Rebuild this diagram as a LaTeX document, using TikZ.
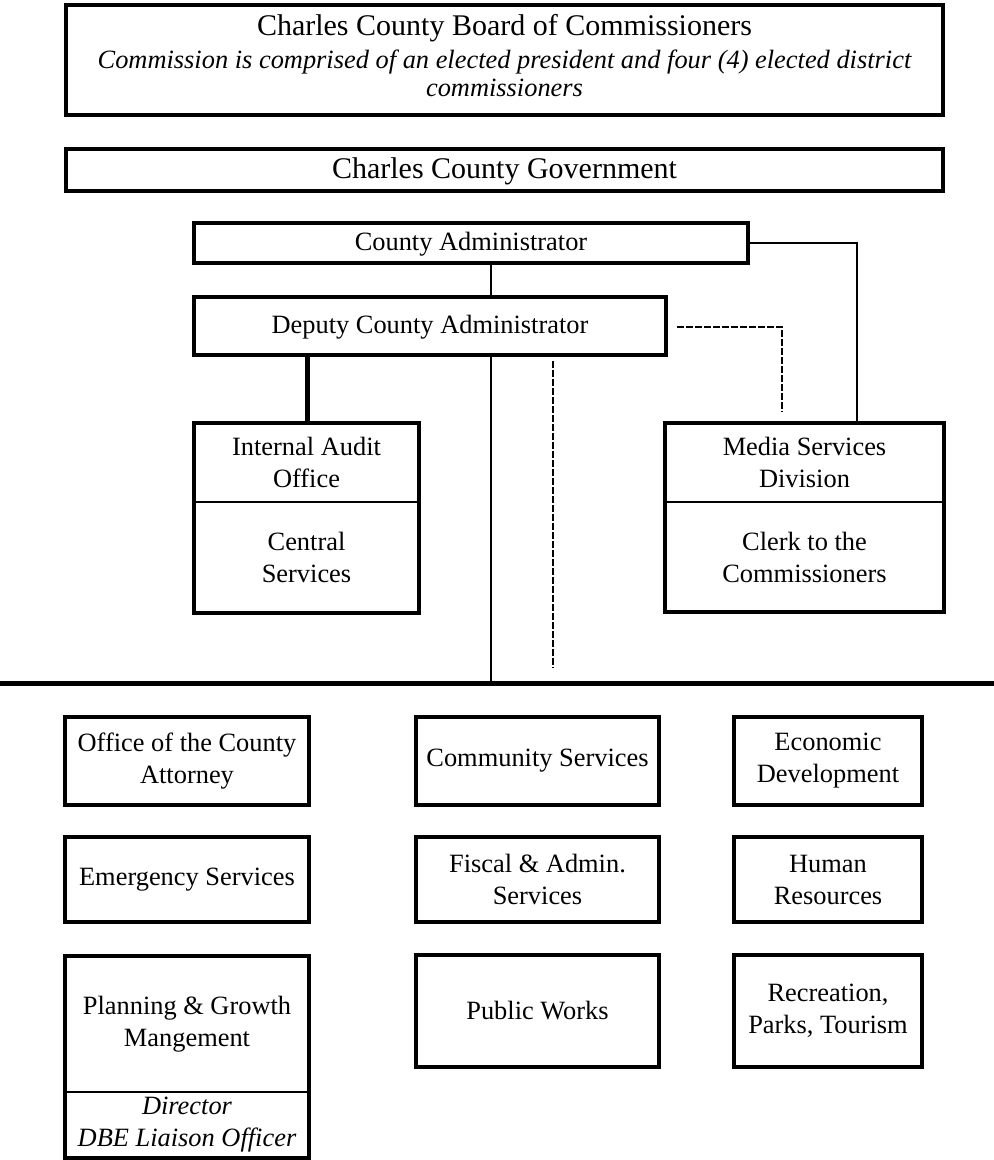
\documentclass[tikz,border=0pt]{standalone}
\usepackage{fontspec}
\setmainfont{Liberation Serif}
\usetikzlibrary{fit}
\newcommand\bodyfont{\fontsize{19.8}{24}\selectfont}
\newcommand\titlefont{\fontsize{22.5}{26}\selectfont}
\begin{document}
\begin{tikzpicture}[x=0.75pt,y=-0.75pt,
  box/.style={draw, line width=3pt, inner sep=0pt},
  txt/.style={inner sep=0pt, align=center, font=\bodyfont},
  conn/.style={line width=2.2pt},
  thickconn/.style={line width=3.75pt},
  dashconn/.style={line width=2pt, dash pattern=on 5.25pt off 1.5pt},
  divider/.style={line width=2pt}]
\useasboundingbox (0,0) rectangle (994,1160);

% top boxes
\node[box, fit={(66,5) (943,115)}] (board) {};
\node[txt, font=\titlefont, anchor=base] (bt1) at (504.5,35) {Charles County Board of Commissioners};
\node[txt, font=\bodyfont\itshape, anchor=base] (bt2) at (504.5,68) {Commission is comprised of an elected president and four (4) elected district};
\node[txt, font=\bodyfont\itshape, anchor=base] (bt3) at (504.5,96) {commissioners};

\node[box, fit={(66,149) (943,191)}] (gov) {};
\node[txt, font=\titlefont, anchor=base] (govt) at (504.5,178) {Charles County Government};

\node[box, fit={(194,223) (748,263)}] (ca) {};
\node[txt, anchor=base] (cat) at (471,250) {County Administrator};
\node[box, fit={(194,297) (666,355)}] (dep) {};
\node[txt, anchor=base] (dept) at (430,333) {Deputy County Administrator};

% split boxes
\node[box, fit={(194,423) (419,613)}] (ia) {};
\coordinate (iaL) at (194,502);
\coordinate (iaR) at (419,502);
\draw[divider] (iaL) -- (iaR);
\node[txt] (iaT) at (306.5,462) {Internal Audit\\Office};
\node[txt] (iaB) at (306.5,557) {Central\\Services};

\node[box, fit={(665,423) (944,612)}] (media) {};
\coordinate (mdL) at (665,502);
\coordinate (mdR) at (944,502);
\draw[divider] (mdL) -- (mdR);
\node[txt] (mdT) at (804.5,462) {Media Services\\Division};
\node[txt] (mdB) at (804.5,557) {Clerk to the\\Commissioners};

% connector helper coordinates
\coordinate (x491) at (491,0);
\coordinate (x307) at (307,0);
\coordinate (x857) at (857,0);
\coordinate (hl) at (0,683);
\coordinate (hr) at (994,683);
\coordinate (ds) at (677,327);
\coordinate (de) at (782,412);
\coordinate (vs) at (553,361);
\coordinate (ve) at (553,668);

\draw[conn] (x491 |- ca.south) -- (x491 |- dep.north);
\draw[conn] (ca.east) -| (x857 |- media.north);
\draw[dashconn] (ds) -| (de);
\draw[thickconn] (x307 |- dep.south) -- (x307 |- ia.north);
\draw[conn] (x491 |- dep.south) -- (x491 |- hl);
\draw[dashconn] (vs) -- (ve);
\draw[line width=3.75pt] (hl) -- (hr);

% bottom grid
\node[box, fit={(65,717) (309,805)}] (office) {};
\node[txt] at (office.center) {Office of the County\\Attorney};
\node[box, fit={(416,717) (659,805)}] (community) {};
\node[txt] at (community.center) {Community Services};
\node[box, fit={(734,717) (922,805)}] (economic) {};
\node[txt] at (economic.center) {Economic\\Development};

\node[box, fit={(65,837) (309,922)}] (emergency) {};
\node[txt] at (emergency.center) {Emergency Services};
\node[box, fit={(416,837) (659,922)}] (fiscal) {};
\node[txt] at (fiscal.center) {Fiscal \& Admin.\\Services};
\node[box, fit={(734,837) (922,922)}] (human) {};
\node[txt] at (human.center) {Human\\Resources};

\node[box, fit={(65,956) (309,1158)}] (planning) {};
\coordinate (plL) at (65,1092);
\coordinate (plR) at (309,1092);
\draw[divider] (plL) -- (plR);
\node[txt] (plT) at (187,1024) {Planning \& Growth\\Mangement};
\node[txt, font=\bodyfont\itshape] (plB) at (187,1125) {Director\\DBE Liaison Officer};

\node[box, fit={(416,955) (659,1067)}] (public) {};
\node[txt] at (public.center) {Public Works};
\node[box, fit={(734,955) (922,1067)}] (recreation) {};
\node[txt] at (recreation.center) {Recreation,\\Parks, Tourism};
\end{tikzpicture}
\end{document}
